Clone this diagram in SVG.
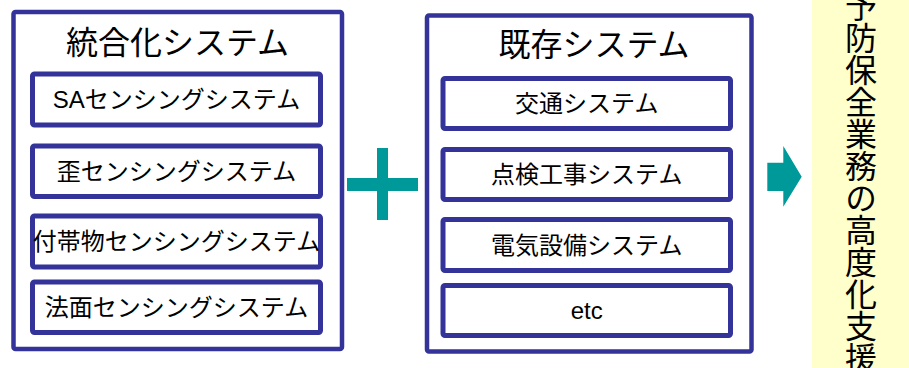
<svg xmlns="http://www.w3.org/2000/svg" width="909" height="368" viewBox="0 0 909 368">
<style>
.box{fill:#fff;stroke:#333399;stroke-width:4.5}
.ibox{fill:#fff;stroke:#333399;stroke-width:5}
.t{font-family:"Liberation Sans","Noto Sans CJK JP",sans-serif;fill:#000;text-anchor:middle;dominant-baseline:central}
.title{font-size:32px}
.item{font-size:24px}
.teal{fill:#009999}
</style>
<rect width="909" height="368" fill="#fff"/>
<g id="integrated">
<rect class="box" x="13.5" y="12" width="328.5" height="337" rx="2"/>
<text class="t title" x="177.5" y="42.5">統合化システム</text>
</g>
<g id="sa"><rect class="ibox" x="32.5" y="74" width="288" height="51" rx="2"/><text class="t item" x="176.5" y="99.5">SAセンシングシステム</text></g>
<g id="strain"><rect class="ibox" x="32.5" y="146" width="288" height="50.5" rx="2"/><text class="t item" x="176.5" y="171">歪センシングシステム</text></g>
<g id="attach"><rect class="ibox" x="32.5" y="216" width="288" height="51" rx="2"/><text class="t item" x="176.5" y="241.5">付帯物センシングシステム</text></g>
<g id="slope"><rect class="ibox" x="32.5" y="282" width="288" height="50.5" rx="2"/><text class="t item" x="176.5" y="307">法面センシングシステム</text></g>
<g id="existing">
<rect class="box" x="427" y="15.5" width="324.5" height="336" rx="2"/>
<text class="t title" x="594" y="45">既存システム</text>
</g>
<g id="traffic"><rect class="ibox" x="443" y="78.5" width="287.5" height="50" rx="2"/><text class="t item" x="586.75" y="103.5">交通システム</text></g>
<g id="inspect"><rect class="ibox" x="443" y="149.5" width="287.5" height="50" rx="2"/><text class="t item" x="586.75" y="174.5">点検工事システム</text></g>
<g id="electric"><rect class="ibox" x="443" y="219.5" width="287.5" height="51" rx="2"/><text class="t item" x="586.75" y="245">電気設備システム</text></g>
<g id="etc"><rect class="ibox" x="443" y="285.5" width="287.5" height="50" rx="2"/><text class="t item" x="586.75" y="310.5">etc</text></g>
<g id="plus">
<rect class="teal" x="347" y="178" width="71" height="13"/>
<rect class="teal" x="377" y="148" width="11" height="72"/>
</g>
<g id="connectors">
<polygon class="teal" points="767.3,162.7 783.3,162.7 783.3,146 801.7,176.7 783.3,206.7 783.3,191 767.3,191"/>
</g>
<g id="goal">
<rect x="812" y="0" width="97" height="368" fill="#FFFFCC"/>
<text x="861" y="-10" font-family="Noto Sans CJK JP, sans-serif" font-size="32" writing-mode="vertical-rl" fill="#000">予防保全業務の高度化支援</text>
</g>
</svg>
